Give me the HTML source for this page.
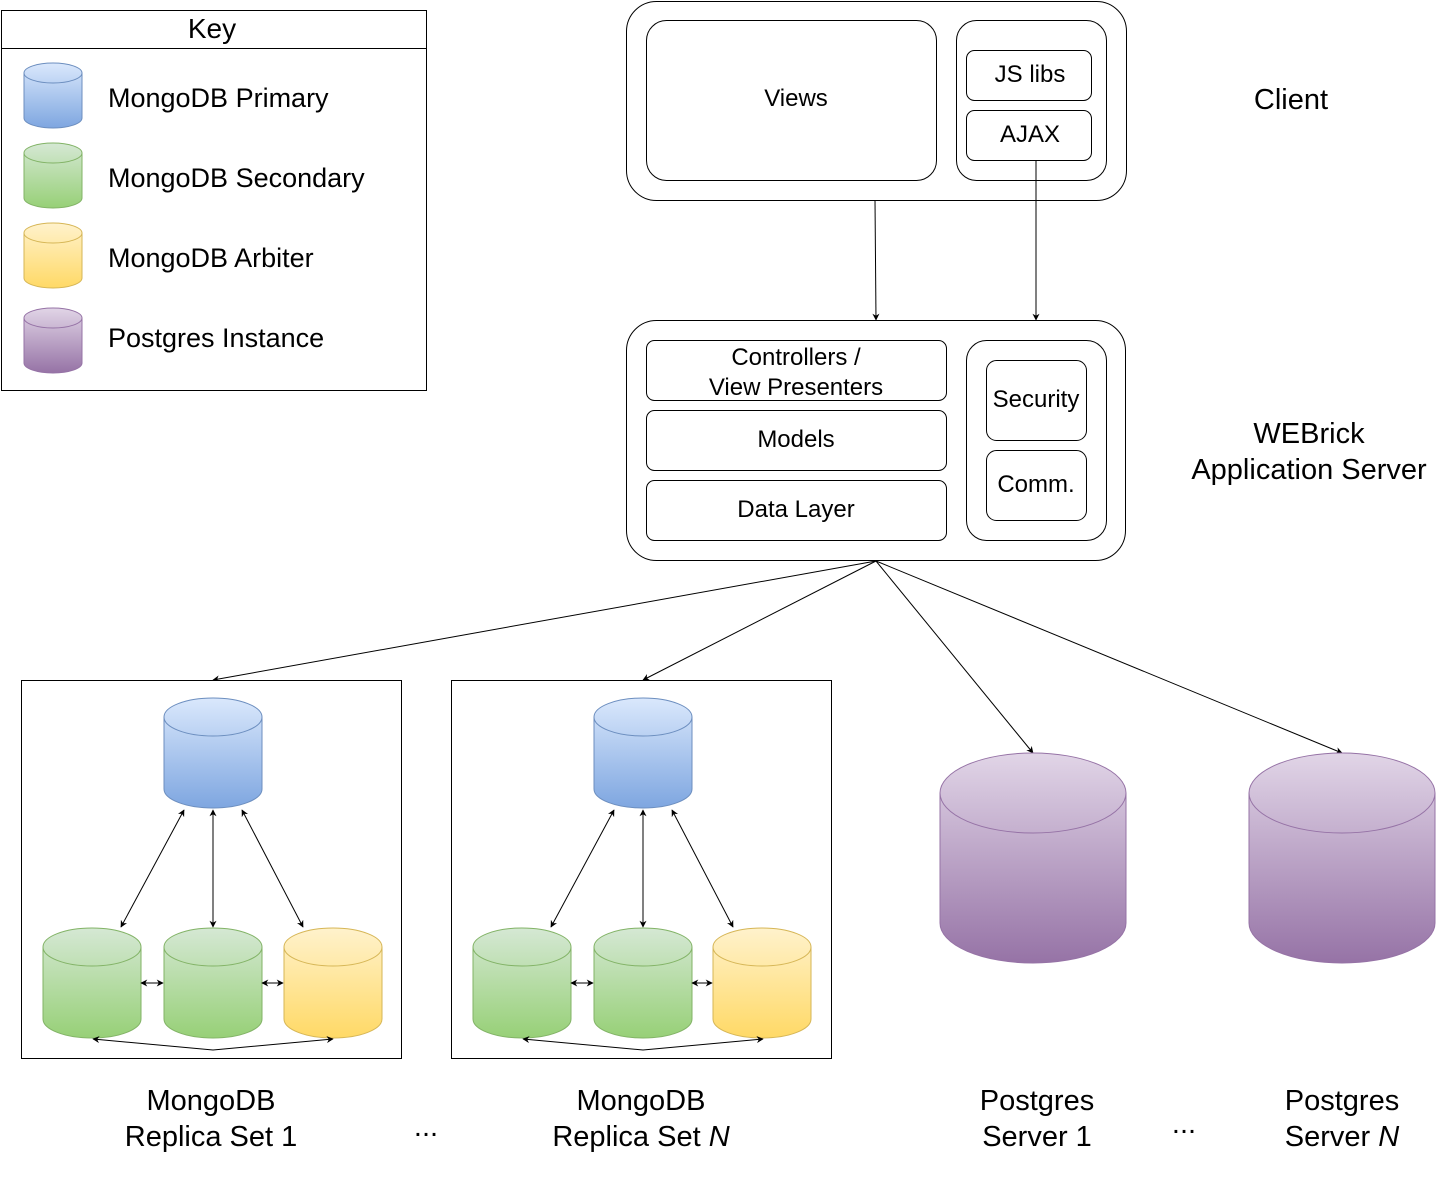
<!DOCTYPE html>
<html><head><meta charset="utf-8"><style>
html,body{margin:0;padding:0;background:#fff;}
svg{display:block;}
text{font-family:"Liberation Sans",Arial,sans-serif;fill:#000;}
</style></head><body>
<svg width="1451" height="1177" viewBox="0 0 1451 1177" xmlns="http://www.w3.org/2000/svg">
<defs>
<linearGradient id="gb" x1="0" y1="0" x2="0" y2="1"><stop offset="0" stop-color="#dae8fc"/><stop offset="1" stop-color="#7ea6e0"/></linearGradient>
<linearGradient id="gg" x1="0" y1="0" x2="0" y2="1"><stop offset="0" stop-color="#d5e8d4"/><stop offset="1" stop-color="#97d077"/></linearGradient>
<linearGradient id="gy" x1="0" y1="0" x2="0" y2="1"><stop offset="0" stop-color="#fff2cc"/><stop offset="1" stop-color="#ffd966"/></linearGradient>
<linearGradient id="gp" x1="0" y1="0" x2="0" y2="1"><stop offset="0" stop-color="#e1d5e7"/><stop offset="1" stop-color="#9673a6"/></linearGradient>
<marker id="a" viewBox="0 0 10 10" refX="9" refY="5" markerWidth="7" markerHeight="7" orient="auto-start-reverse" markerUnits="userSpaceOnUse"><path d="M0,0 L10,5 L0,10 L3,5 z" fill="#000"/></marker>
</defs>
<g stroke-width="1">
<!-- Key -->
<rect x="1.5" y="10.5" width="425" height="380" fill="#fff" stroke="#000"/>
<line x1="1.5" y1="48.5" x2="426.5" y2="48.5" stroke="#000"/>
<text x="212" y="38" font-size="28" text-anchor="middle">Key</text>
<path d="M24,73 a29,10 0 0 1 58,0 v45 a29,10 0 0 1 -58,0 z" fill="url(#gb)" stroke="#6c8ebf"/><path d="M24,73 a29,10 0 0 0 58,0" fill="none" stroke="#6c8ebf"/>
<path d="M24,153 a29,10 0 0 1 58,0 v45 a29,10 0 0 1 -58,0 z" fill="url(#gg)" stroke="#82b366"/><path d="M24,153 a29,10 0 0 0 58,0" fill="none" stroke="#82b366"/>
<path d="M24,233 a29,10 0 0 1 58,0 v45 a29,10 0 0 1 -58,0 z" fill="url(#gy)" stroke="#d6b656"/><path d="M24,233 a29,10 0 0 0 58,0" fill="none" stroke="#d6b656"/>
<path d="M24,318 a29,10 0 0 1 58,0 v45 a29,10 0 0 1 -58,0 z" fill="url(#gp)" stroke="#9673a6"/><path d="M24,318 a29,10 0 0 0 58,0" fill="none" stroke="#9673a6"/>
<text x="108" y="107" font-size="27">MongoDB Primary</text>
<text x="108" y="187" font-size="27">MongoDB Secondary</text>
<text x="108" y="267" font-size="27">MongoDB Arbiter</text>
<text x="108" y="347" font-size="27">Postgres Instance</text>

<!-- Client -->
<rect x="626.5" y="1.5" width="500" height="199" rx="30" fill="#fff" stroke="#000"/>
<rect x="646.5" y="20.5" width="290" height="160" rx="20" fill="#fff" stroke="#000"/>
<rect x="956.5" y="20.5" width="150" height="160" rx="20" fill="#fff" stroke="#000"/>
<rect x="966.5" y="50.5" width="125" height="50" rx="8" fill="#fff" stroke="#000"/>
<rect x="966.5" y="110.5" width="125" height="50" rx="8" fill="#fff" stroke="#000"/>
<text x="796" y="106" font-size="24" text-anchor="middle">Views</text>
<text x="1030" y="82" font-size="24" text-anchor="middle">JS libs</text>
<text x="1030" y="142" font-size="24" text-anchor="middle">AJAX</text>
<text x="1291" y="109" font-size="29" text-anchor="middle">Client</text>

<line x1="875" y1="200" x2="876" y2="320" stroke="#000" marker-end="url(#a)"/>
<line x1="1036" y1="160" x2="1036" y2="320" stroke="#000" marker-end="url(#a)"/>

<!-- Server -->
<rect x="626.5" y="320.5" width="499" height="240" rx="30" fill="#fff" stroke="#000"/>
<rect x="646.5" y="340.5" width="300" height="60" rx="8" fill="#fff" stroke="#000"/>
<rect x="646.5" y="410.5" width="300" height="60" rx="8" fill="#fff" stroke="#000"/>
<rect x="646.5" y="480.5" width="300" height="60" rx="8" fill="#fff" stroke="#000"/>
<rect x="966.5" y="340.5" width="140" height="200" rx="20" fill="#fff" stroke="#000"/>
<rect x="986.5" y="360.5" width="100" height="80" rx="10" fill="#fff" stroke="#000"/>
<rect x="986.5" y="450.5" width="100" height="70" rx="10" fill="#fff" stroke="#000"/>
<text x="796" y="365" font-size="24" text-anchor="middle">Controllers /</text>
<text x="796" y="395" font-size="24" text-anchor="middle">View Presenters</text>
<text x="796" y="447" font-size="24" text-anchor="middle">Models</text>
<text x="796" y="517" font-size="24" text-anchor="middle">Data Layer</text>
<text x="1036" y="407" font-size="24" text-anchor="middle">Security</text>
<text x="1036" y="492" font-size="24" text-anchor="middle">Comm.</text>
<text x="1309" y="443" font-size="29" text-anchor="middle">WEBrick</text>
<text x="1309" y="479" font-size="29" text-anchor="middle">Application Server</text>

<line x1="876" y1="561" x2="213" y2="680" stroke="#000" marker-end="url(#a)"/>
<line x1="876" y1="561" x2="643" y2="680" stroke="#000" marker-end="url(#a)"/>
<line x1="876" y1="561" x2="1033" y2="753" stroke="#000" marker-end="url(#a)"/>
<line x1="876" y1="561" x2="1342" y2="753" stroke="#000" marker-end="url(#a)"/>

<!-- Replica set 1 -->
<rect x="21.5" y="680.5" width="380" height="378" fill="#fff" stroke="#000"/>
<path d="M164,717 a49,19 0 0 1 98,0 v72 a49,19 0 0 1 -98,0 z" fill="url(#gb)" stroke="#6c8ebf"/><path d="M164,717 a49,19 0 0 0 98,0" fill="none" stroke="#6c8ebf"/>
<path d="M43,947 a49,19 0 0 1 98,0 v72 a49,19 0 0 1 -98,0 z" fill="url(#gg)" stroke="#82b366"/><path d="M43,947 a49,19 0 0 0 98,0" fill="none" stroke="#82b366"/>
<path d="M164,947 a49,19 0 0 1 98,0 v72 a49,19 0 0 1 -98,0 z" fill="url(#gg)" stroke="#82b366"/><path d="M164,947 a49,19 0 0 0 98,0" fill="none" stroke="#82b366"/>
<path d="M284,947 a49,19 0 0 1 98,0 v72 a49,19 0 0 1 -98,0 z" fill="url(#gy)" stroke="#d6b656"/><path d="M284,947 a49,19 0 0 0 98,0" fill="none" stroke="#d6b656"/>
<g stroke="#000" fill="none" marker-start="url(#a)" marker-end="url(#a)">
<line x1="184" y1="810" x2="121" y2="927"/>
<line x1="213" y1="810" x2="213" y2="927"/>
<line x1="242" y1="810" x2="303" y2="927"/>
<line x1="141" y1="983" x2="163" y2="983"/>
<line x1="262" y1="983" x2="283" y2="983"/>
<polyline points="93,1039 213,1050 333,1039"/>
</g>

<!-- Replica set N -->
<rect x="451.5" y="680.5" width="380" height="378" fill="#fff" stroke="#000"/>
<path d="M594,717 a49,19 0 0 1 98,0 v72 a49,19 0 0 1 -98,0 z" fill="url(#gb)" stroke="#6c8ebf"/><path d="M594,717 a49,19 0 0 0 98,0" fill="none" stroke="#6c8ebf"/>
<path d="M473,947 a49,19 0 0 1 98,0 v72 a49,19 0 0 1 -98,0 z" fill="url(#gg)" stroke="#82b366"/><path d="M473,947 a49,19 0 0 0 98,0" fill="none" stroke="#82b366"/>
<path d="M594,947 a49,19 0 0 1 98,0 v72 a49,19 0 0 1 -98,0 z" fill="url(#gg)" stroke="#82b366"/><path d="M594,947 a49,19 0 0 0 98,0" fill="none" stroke="#82b366"/>
<path d="M713,947 a49,19 0 0 1 98,0 v72 a49,19 0 0 1 -98,0 z" fill="url(#gy)" stroke="#d6b656"/><path d="M713,947 a49,19 0 0 0 98,0" fill="none" stroke="#d6b656"/>
<g stroke="#000" fill="none" marker-start="url(#a)" marker-end="url(#a)">
<line x1="614" y1="810" x2="551" y2="927"/>
<line x1="643" y1="810" x2="643" y2="927"/>
<line x1="672" y1="810" x2="733" y2="927"/>
<line x1="571" y1="983" x2="593" y2="983"/>
<line x1="692" y1="983" x2="712" y2="983"/>
<polyline points="523,1039 643,1050 763,1039"/>
</g>

<!-- Postgres -->
<path d="M940,793 a93,40 0 0 1 186,0 v130 a93,40 0 0 1 -186,0 z" fill="url(#gp)" stroke="#9673a6"/><path d="M940,793 a93,40 0 0 0 186,0" fill="none" stroke="#9673a6"/>
<path d="M1249,793 a93,40 0 0 1 186,0 v130 a93,40 0 0 1 -186,0 z" fill="url(#gp)" stroke="#9673a6"/><path d="M1249,793 a93,40 0 0 0 186,0" fill="none" stroke="#9673a6"/>

<!-- Labels -->
<text x="211" y="1110" font-size="29" text-anchor="middle">MongoDB</text>
<text x="211" y="1146" font-size="29" text-anchor="middle">Replica Set 1</text>
<text x="426" y="1136" font-size="29" text-anchor="middle">...</text>
<text x="641" y="1110" font-size="29" text-anchor="middle">MongoDB</text>
<text x="641" y="1146" font-size="29" text-anchor="middle">Replica Set <tspan font-style="italic">N</tspan></text>
<text x="1037" y="1110" font-size="29" text-anchor="middle">Postgres</text>
<text x="1037" y="1146" font-size="29" text-anchor="middle">Server 1</text>
<text x="1184" y="1133" font-size="29" text-anchor="middle">...</text>
<text x="1342" y="1110" font-size="29" text-anchor="middle">Postgres</text>
<text x="1342" y="1146" font-size="29" text-anchor="middle">Server <tspan font-style="italic">N</tspan></text>
</g>
</svg>
</body></html>
